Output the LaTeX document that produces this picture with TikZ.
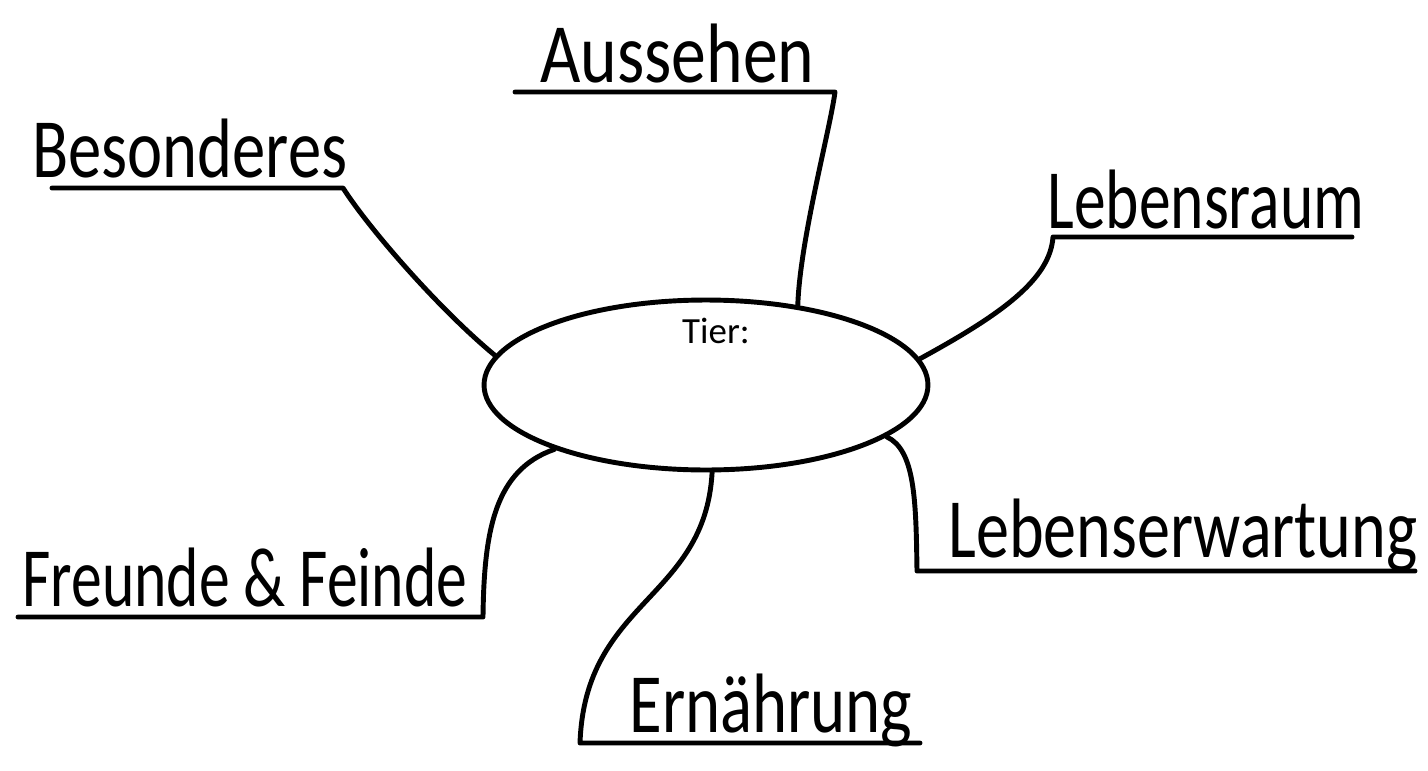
\documentclass[tikz,border=0pt]{standalone}
\usepackage{graphicx}
\usepackage{fontspec}
\setmainfont{Carlito}
\usetikzlibrary{shapes.geometric}
% squeeze a label to the width it has in the sketch
\newcommand{\fitto}[2]{\resizebox{#1}{\height}{#2}}
\begin{document}
\begin{tikzpicture}
[
x=0.02cm, y=-0.02cm,
line width=2.8pt, line cap=round, line join=round,
topic/.style={anchor=base west, inner sep=0pt, font=\fontsize{48}{48}\selectfont}
]
\useasboundingbox (0,0) rectangle (1428,771);
  \node[ellipse,draw,inner sep=0pt,minimum width=8.88cm,minimum height=3.4cm] (tier) at (706,385) {};
  \node[anchor=base,inner sep=0pt,font=\fontsize{21}{21}\selectfont] (tiertext) at (716,343) {Tier:};
  % labels
  \node[topic] (aussehen) at (538,82) {\fitto{5.48cm}{Aussehen}};
  \node[topic] (besonderes) at (30,177) {\fitto{6.3cm}{Besonderes}};
  \node[topic] (lebensraum) at (1045,228) {\fitto{6.34cm}{Lebensraum}};
  \node[topic] (erwartung) at (946,557) {\fitto{9.38cm}{Lebenserwartung}};
  \node[topic] (ernaehrung) at (627,732) {\fitto{5.66cm}{Ernährung}};
  \node[topic] (freunde) at (20,606) {\fitto{8.9cm}{Freunde \& Feinde}};
  % underline ends
  \coordinate (a1) at (835,92);   \coordinate (a2) at (515,92);
  \coordinate (b1) at (343,188);  \coordinate (b2) at (52,188);
  \coordinate (l1) at (1053,237); \coordinate (l2) at (1352,237);
  \coordinate (w1) at (917,571);  \coordinate (w2) at (1415,571);
  \coordinate (e1) at (580,743);  \coordinate (e2) at (920,743);
  \coordinate (f1) at (483,617);  \coordinate (f2) at (18,617);
  % branches
  \draw (tier.41) .. controls (800,240) and (830,130) .. (a1) -- (a2);
  \draw (tier.172) .. controls (440,310) and (370,230) .. (b1) -- (b2);
  \draw (tier.7) .. controls (1000,315) and (1050,280) .. (l1) -- (l2);
  \draw (tier.-16) .. controls (915,450) and (916,500) .. (w1) -- (w2);
  \draw (tier.-86) .. controls (705,600) and (585,600) .. (e1) -- (e2);
  \draw (tier.203) .. controls (495,470) and (484,530) .. (f1) -- (f2);
\end{tikzpicture}
\end{document}
